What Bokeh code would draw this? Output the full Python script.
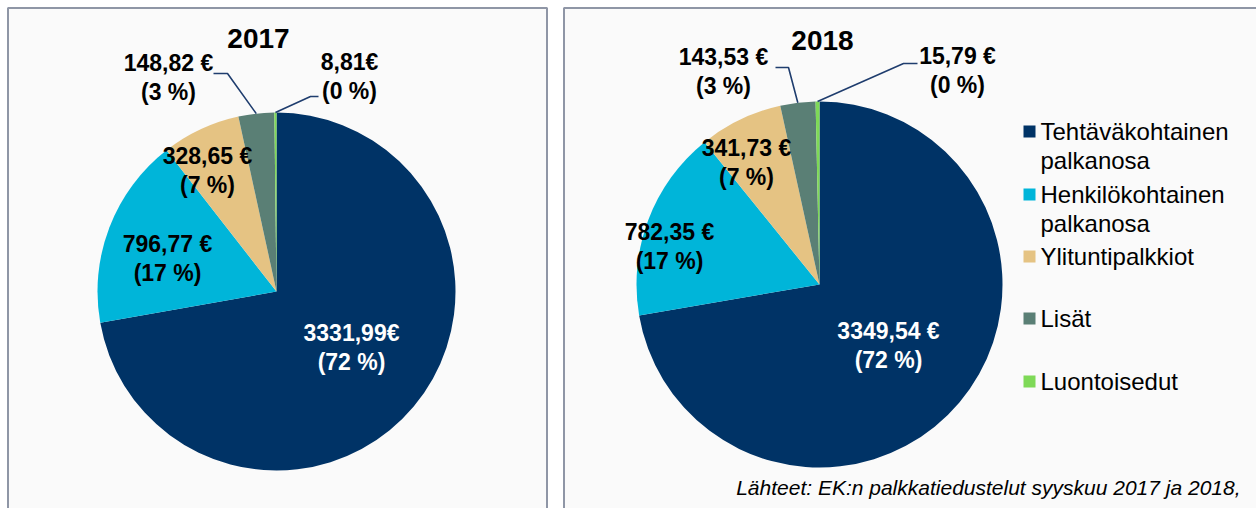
import numpy as np
from bokeh.plotting import figure
from bokeh.models import Range1d, ColumnDataSource
from bokeh.core.properties import value
from bokeh.embed import file_html
from bokeh.resources import INLINE

# ---- data ----
categories = ["Tehtäväkohtainen\npalkanosa", "Henkilökohtainen\npalkanosa",
              "Ylituntipalkkiot", "Lisät", "Luontoisedut"]
colors = ["#003366", "#00b5d9", "#e5c383", "#5a7f75", "#7ed957"]
values_2017 = [3331.99, 796.77, 328.65, 148.82, 8.81]
values_2018 = [3349.54, 782.35, 341.73, 143.53, 15.79]
labels_2017 = ["3331,99€", "796,77 €", "328,65 €", "148,82 €", "8,81€"]
labels_2018 = ["3349,54 €", "782,35 €", "341,73 €", "143,53 €", "15,79 €"]
years = ["2017", "2018"]
source_text = "Lähteet: EK:n palkkatiedustelut syyskuu 2017 ja 2018,"

FONT = "Liberation Sans"

p = figure(width=1256, height=508, output_backend="svg", toolbar_location=None,
           x_range=Range1d(0, 1256), y_range=Range1d(-508, 0), min_border=0)
p.axis.visible = False
p.grid.visible = False
p.outline_line_color = None
p.background_fill_color = "white"
p.border_fill_color = "white"

def Y(py):
    return -py

# panels
p.quad(left=[7.5, 563.5], right=[546.5, 1280], top=[Y(7.5), Y(7.5)], bottom=[Y(530), Y(530)],
       fill_color="#fafafa", line_color="#8f96a6", line_width=2)

# per-pie layout
layouts = [
    dict(cx=276, cy=291, r=179, title=(258, 38),
         lab=[(351, 332), (167, 243), (207, 155), (168, 62), (349, 61)],
         elbow=[None, None, None, [(213, 73), (227, 73)], [(318, 96), (310, 96)]]),
    dict(cx=819, cy=284, r=183, title=(822, 40),
         lab=[(888, 330), (669, 231), (746, 147), (723, 56), (957, 55)],
         elbow=[None, None, None, [(775, 67), (788, 67)], [(917, 63), (903, 63)]]),
]
LINE_GAP = 29

for vals, labs, year, L in zip([values_2017, values_2018], [labels_2017, labels_2018], years, layouts):
    v = np.array(vals)
    frac = v / v.sum()
    cum_end = np.cumsum(frac)
    cum_start = cum_end - frac
    # clockwise from 12 o'clock
    start = np.pi / 2 - cum_end * 2 * np.pi
    end = np.pi / 2 - cum_start * 2 * np.pi
    src = ColumnDataSource(dict(start=start, end=end, color=colors))
    p.wedge(x=L["cx"], y=Y(L["cy"]), radius=L["r"], start_angle="start", end_angle="end",
            fill_color="color", line_color=None, source=src)

    # leader lines
    mid = (cum_start + cum_end) / 2 * 2 * np.pi
    xs, ys = [], []
    for i, el in enumerate(L["elbow"]):
        if el is None:
            continue
        ex = L["cx"] + L["r"] * np.sin(mid[i])
        ey = L["cy"] - L["r"] * np.cos(mid[i])
        xs.append([el[0][0], el[1][0], ex])
        ys.append([Y(el[0][1]), Y(el[1][1]), Y(ey)])
    p.multi_line(xs=xs, ys=ys, line_color="#1f3d6e", line_width=1.6)

    pct = ["(%d %%)" % round(f * 100) for f in frac]
    tx = [q[0] for q in L["lab"]]
    ty1 = [Y(q[1]) for q in L["lab"]]
    ty2 = [Y(q[1] + LINE_GAP) for q in L["lab"]]
    tcol = ["white"] + ["black"] * 4
    p.text(x=tx, y=ty1, text=labs, text_color=tcol, text_font=value(FONT),
           text_font_style="bold", text_font_size="23px", text_align="center", text_baseline="middle")
    p.text(x=tx, y=ty2, text=pct, text_color=tcol, text_font=value(FONT),
           text_font_style="bold", text_font_size="23px", text_align="center", text_baseline="middle")

    p.text(x=[L["title"][0]], y=[Y(L["title"][1])], text=[year], text_color="black",
           text_font=value(FONT), text_font_style="bold", text_font_size="28px",
           text_align="center", text_baseline="middle")

# legend
row_y = [131, 194, 256, 318, 381]
p.scatter(x=[1029] * 5, y=[Y(y) for y in row_y], marker="square", size=12,
          fill_color=colors, line_color=None)
lx, ly, lt = [], [], []
for cat, y in zip(categories, row_y):
    for k, line in enumerate(cat.split("\n")):
        lx.append(1040)
        ly.append(Y(y + k * 29))
        lt.append(line)
p.text(x=lx, y=ly, text=lt, text_color="black", text_font=value(FONT),
       text_font_size="24px", text_align="left", text_baseline="middle")

# source
p.text(x=[1240], y=[Y(487)], text=[source_text], text_color="black", text_font=value(FONT),
       text_font_style="italic", text_font_size="21px", text_align="right", text_baseline="middle")

open("out.html", "w").write(file_html(p, INLINE))
